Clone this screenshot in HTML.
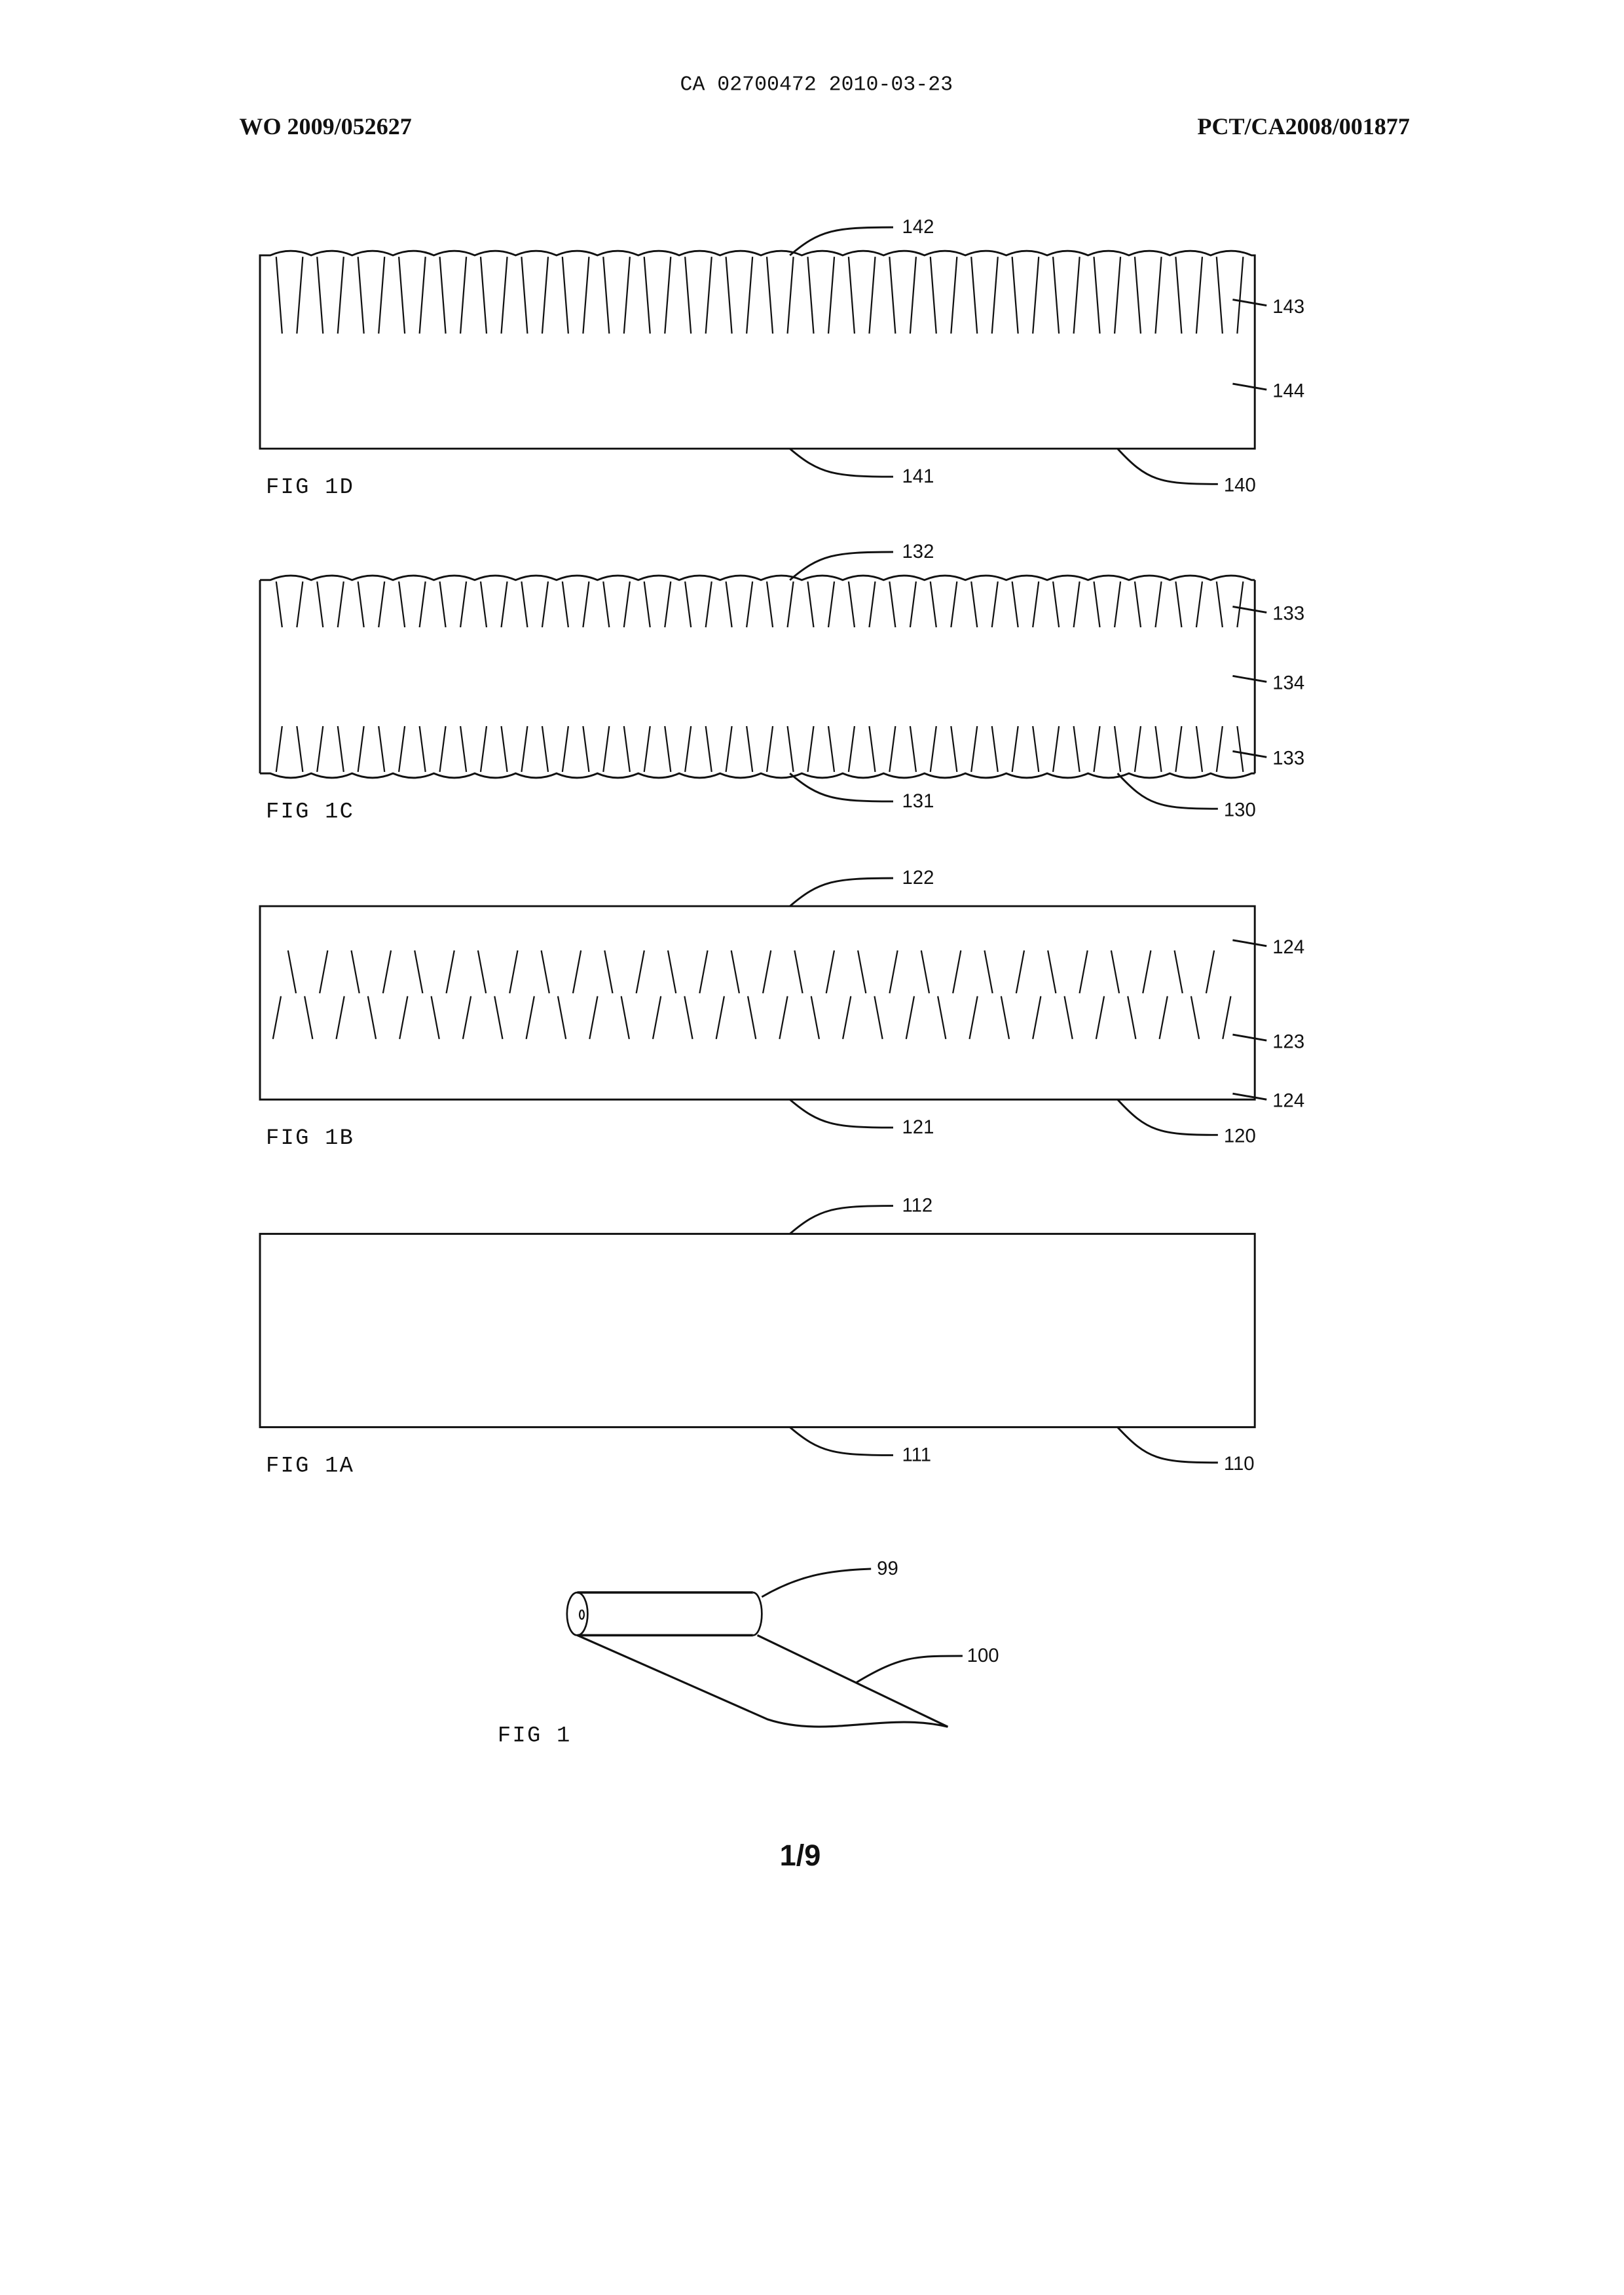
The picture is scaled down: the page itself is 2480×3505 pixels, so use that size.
<!DOCTYPE html>
<html><head><meta charset="utf-8"><style>
html,body{margin:0;padding:0;background:#fff}
svg{display:block}
text{font-family:"Liberation Sans",sans-serif;fill:#111}
.num{font-size:13px;font-family:"Liberation Sans",sans-serif}
.fig{font-size:15px;font-family:"Liberation Mono",monospace;letter-spacing:1px}
</style></head><body>
<svg id="s" width="2480" height="3505" viewBox="0 0 1100 1555" xmlns="http://www.w3.org/2000/svg">
<text x="553" y="61" text-anchor="middle" style="font-family:'Liberation Mono',monospace;font-size:14px">CA 02700472 2010-03-23</text>
<text x="162" y="91" style="font-family:'Liberation Serif',serif;font-weight:bold;font-size:16px">WO 2009/052627</text>
<text x="955" y="91" text-anchor="end" style="font-family:'Liberation Serif',serif;font-weight:bold;font-size:16px">PCT/CA2008/001877</text>
<g id="figs" fill="none" stroke="#111" stroke-width="1.3"></g>
<text x="542" y="1264" text-anchor="middle" style="font-weight:bold;font-size:20px">1/9</text>
</svg>
<script>
const NS='http://www.w3.org/2000/svg';
const g=document.getElementById('figs');
const svg=document.getElementById('s');
function P(d,name,w){const p=document.createElementNS(NS,'path');p.setAttribute('d',d);if(w)p.setAttribute('stroke-width',w);


g.appendChild(p);return p;}
function T(x,y,s,cls,name){const t=document.createElementNS(NS,'text');t.setAttribute('x',x);t.setAttribute('y',y);t.setAttribute('class',cls);t.textContent=s;


svg.appendChild(t);}
const L=176,R=850,PER=27.7,OFF=7;
function wave(y,dir){let d='M'+L+','+y;let x=L;
 let first=L+OFF; d+=' L'+first+','+y;x=first;
 while(x+PER<=R){d+=' Q'+(x+PER/2)+','+(y-dir*6)+' '+(x+PER)+','+y;x+=PER;}
 d+=' L'+R+','+y;return d;}
function teeth(y0,y1,name){let d='';for(let x=L+OFF;x+PER<=R+2;x+=PER){d+='M'+(x+4)+','+y0+' L'+(x+8)+','+y1+' M'+(x+22)+','+y0+' L'+(x+18)+','+y1+' ';}P(d,name,1);}
function leader(x0,y0,x1,y1){return 'M'+x0+','+y0+' C'+(x0+20)+','+(y0+(y1-y0)*0.9)+' '+(x1-40)+','+y1+' '+x1+','+y1;}
const figTops=[173,393,614,836];const figH=131;
// FIG 1D
let t=figTops[0];
P(wave(t,1)+' L'+R+','+(t+figH)+' L'+L+','+(t+figH)+' Z','fig1d-substrate');
teeth(t+1,t+53,'fig1d-spikes');
// FIG 1C
t=figTops[1];
P(wave(t,1),'fig1c-top-surface');P(wave(t+figH,-1),'fig1c-bottom-surface');
P('M'+L+','+t+' L'+L+','+(t+figH)+' M'+R+','+t+' L'+R+','+(t+figH),'fig1c-sides');
teeth(t+1,t+32,'fig1c-top-spikes');teeth(t+figH-1,t+figH-32,'fig1c-bottom-spikes');
// FIG 1B
t=figTops[2];
P('M'+L+','+t+' H'+R+' V'+(t+figH)+' H'+L+' Z','fig1b-substrate');
let d='';for(let i=0;i<30;i++){const x=197.7+i*21.45;if(x>846)break;const lean=i%2?-2.7:2.7;d+='M'+(x-lean)+','+(t+30)+' L'+(x+lean)+','+(t+59)+' ';}
for(let i=0;i<31;i++){const x=187.5+i*21.45;if(x>846)break;const lean=i%2?2.7:-2.7;d+='M'+(x-lean)+','+(t+61)+' L'+(x+lean)+','+(t+90)+' ';}
P(d,'fig1b-embedded-particles',1);
// FIG 1A
t=figTops[3];
P('M'+L+','+t+' H'+R+' V'+(t+figH)+' H'+L+' Z','fig1a-substrate');
// leaders & labels
const labelsTop=['142','132','122','112'];const labelsBot=['141','131','121','111'];const labelsCorner=['140','130','120','110'];
const figNames=['FIG 1D','FIG 1C','FIG 1B','FIG 1A'];
for(let k=0;k<4;k++){t=figTops[k];
P(leader(535,t,605,t-19),'leader-'+labelsTop[k]);T(611,t-15,labelsTop[k],'num','label-'+labelsTop[k]);
P(leader(535,t+figH,605,t+figH+19),'leader-'+labelsBot[k]);T(611,t+figH+23,labelsBot[k],'num','label-'+labelsBot[k]);
P(leader(757,t+figH,825,t+figH+24),'leader-'+labelsCorner[k]);T(829,t+figH+29,labelsCorner[k],'num','label-'+labelsCorner[k]);
T(180,t+figH+30,figNames[k],'fig','caption-'+figNames[k].replace(' ','-').toLowerCase());}
const side=[[173,'143',207],[173,'144',264],[393,'133',415],[393,'134',462],[393,'133',513],[614,'124',641],[614,'123',705],[614,'124',745]];
side.forEach(s=>{const y=s[2];P('M835,'+(y-4)+' L858,'+y,'leader-'+s[1]);T(862,y+5,s[1],'num','label-'+s[1]);});
// FIG 1 roll
P('M391,1079 H510 M391,1108 H510','roll-body',1.6);
P('M391,1079 A7,14.5 0 0 0 391,1108 A7,14.5 0 0 0 391,1079','roll-end',1.2);
P('M510,1079 A6,14.5 0 0 1 510,1108','roll-right-end',1.2);
P('M394,1091 a1.5,3 0 1 0 0.1,0','roll-core',1);
P('M391,1108 L520,1165 C560,1178 600,1160 642,1170 L513,1108','sheet-100',1.4);
P('M516,1082 C540,1068 560,1064 590,1063','leader-99');T(594,1067,'99','num','label-99');
P('M580,1140 C610,1122 620,1122 652,1122','leader-100');T(655,1126,'100','num','label-100');
T(337,1180,'FIG 1','fig','caption-fig-1');
</script>
</body></html>
